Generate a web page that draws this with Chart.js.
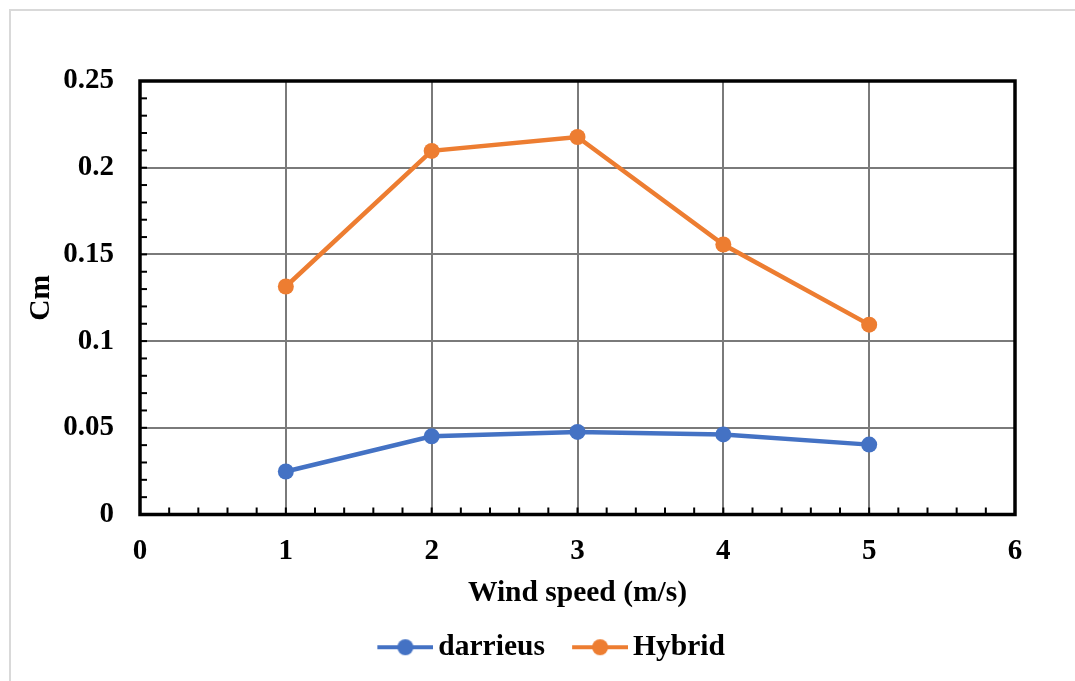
<!DOCTYPE html>
<html>
<head>
<meta charset="utf-8">
<script src="https://cdn.jsdelivr.net/npm/chart.js@4/dist/chart.umd.min.js"></script>
<style>
  html, body { margin: 0; padding: 0; background: #fff; }
  #wrap { position: relative; width: 1075px; height: 681px; overflow: hidden; }
  #frame { position: absolute; left: 9px; top: 9px; width: 1200px; height: 800px;
           border-top: 2px solid #d9d9d9; border-left: 2px solid #d9d9d9; }
  #chart { position: absolute; left: 0; top: 0; }
</style>
</head>
<body>
<div id="wrap">
  <div id="frame"></div>
  <canvas id="chart" width="1075" height="681"></canvas>
</div>
<script>
const windSpeed = [1, 2, 3, 4, 5];
const darrieusCm = [0.0248, 0.0451, 0.0476, 0.0462, 0.0403];
const hybridCm = [0.1315, 0.2097, 0.2177, 0.1557, 0.1095];
const xTicks = [0, 1, 2, 3, 4, 5, 6];
const yTicks = [0, 0.05, 0.1, 0.15, 0.2, 0.25];

const FONT = "'Liberation Serif', 'Times New Roman', serif";
const BLUE = "#4472C4";
const ORANGE = "#ED7D31";
const GRID = "#7a7a7a";

// line-with-dot legend marker; the blank strip on the left spaces the items apart
function legendMarker(color) {
    const m = 17;
    const c = document.createElement("canvas");
    c.width = 56 + m;
    c.height = 18;
    const g = c.getContext("2d");
    g.strokeStyle = color;
    g.lineWidth = 4;
    g.beginPath();
    g.moveTo(m, 9);
    g.lineTo(56 + m, 9);
    g.stroke();
    g.fillStyle = color;
    g.beginPath();
    g.arc(28 + m, 9, 8, 0, Math.PI * 2);
    g.fill();
    return c;
}

// nudge the legend box after layout so it sits under the whole frame
const legendShift = {
    id: "legendShift",
    afterLayout(chart) {
        const lg = chart.legend;
        lg.left += 40;
        lg.right += 40;
        lg.top -= 7;
        lg.bottom -= 7;
    }
};

// frame around the plot area plus inward minor tick marks
const frameAndTicks = {
    id: "frameAndTicks",
    afterDraw(chart) {
        const { ctx, chartArea: a } = chart;
        const xs = chart.scales.x;
        const ys = chart.scales.y;
        ctx.save();
        ctx.strokeStyle = "#000";
        ctx.lineWidth = 2;
        for (let i = 0; i <= 30; i++) {
            const px = xs.getPixelForValue(i * 0.2);
            ctx.beginPath();
            ctx.moveTo(px, a.bottom);
            ctx.lineTo(px, a.bottom - 7);
            ctx.stroke();
        }
        for (let i = 0; i <= 25; i++) {
            const py = ys.getPixelForValue(i * 0.01);
            ctx.beginPath();
            ctx.moveTo(a.left, py);
            ctx.lineTo(a.left + 7, py);
            ctx.stroke();
        }
        ctx.lineWidth = 3.5;
        ctx.strokeRect(a.left, a.top, a.right - a.left, a.bottom - a.top);
        ctx.restore();
    }
};

new Chart(document.getElementById("chart"), {
    type: "line",
    data: {
        datasets: [
            {
                label: "darrieus",
                data: windSpeed.map((x, i) => ({ x: x, y: darrieusCm[i] })),
                borderColor: BLUE,
                backgroundColor: BLUE,
                borderWidth: 4.5,
                pointRadius: 8,
                pointHoverRadius: 8,
                pointBorderWidth: 0,
                pointStyle: "circle",
            },
            {
                label: "Hybrid",
                data: windSpeed.map((x, i) => ({ x: x, y: hybridCm[i] })),
                borderColor: ORANGE,
                backgroundColor: ORANGE,
                borderWidth: 4.5,
                pointRadius: 8,
                pointHoverRadius: 8,
                pointBorderWidth: 0,
                pointStyle: "circle",
            },
        ],
    },
    options: {
        responsive: false,
        animation: false,
        layout: { padding: { top: 81, right: 60, left: 0, bottom: 2 } },
        plugins: {
            tooltip: { enabled: false },
            legend: {
                position: "bottom",
                labels: {
                    color: "#000",
                    font: { family: FONT, size: 29.5, weight: "bold" },
                    usePointStyle: true,
                    pointStyleWidth: 53.5,
                    boxHeight: 18,
                    padding: 20,
                    generateLabels: chart => chart.data.datasets.map((ds, i) => ({
                        text: ds.label,
                        pointStyle: legendMarker(ds.borderColor),
                        fillStyle: ds.borderColor,
                        strokeStyle: ds.borderColor,
                        lineWidth: 0,
                        fontColor: "#000",
                        datasetIndex: i,
                    })),
                },
            },
        },
        scales: {
            x: {
                type: "linear",
                min: 0,
                max: 6,
                afterBuildTicks: s => { s.ticks = xTicks.map(v => ({ value: v })); },
                afterFit: s => { s.height = 105; },
                grid: { color: GRID, lineWidth: 2, drawTicks: false },
                border: { display: false },
                ticks: {
                    color: "#000",
                    padding: 20,
                    font: { family: FONT, size: 29, weight: "bold" },
                },
                title: {
                    display: true,
                    text: "Wind speed (m/s)",
                    color: "#000",
                    font: { family: FONT, size: 29.5, weight: "bold" },
                    padding: { top: 4, bottom: 8 },
                },
            },
            y: {
                min: 0,
                max: 0.25,
                afterBuildTicks: s => { s.ticks = yTicks.map(v => ({ value: v })); },
                afterFit: s => { s.width = 140; },
                grid: { color: GRID, lineWidth: 2, drawTicks: false },
                border: { display: false },
                ticks: {
                    color: "#000",
                    padding: 26,
                    font: { family: FONT, size: 29, weight: "bold" },
                    callback: v => String(+v.toFixed(2)),
                },
                title: {
                    display: true,
                    text: "Cm",
                    color: "#000",
                    font: { family: FONT, size: 29.5, weight: "bold" },
                    padding: { top: 24, bottom: 0 },
                },
            },
        },
    },
    plugins: [legendShift, frameAndTicks],
});
</script>
</body>
</html>
